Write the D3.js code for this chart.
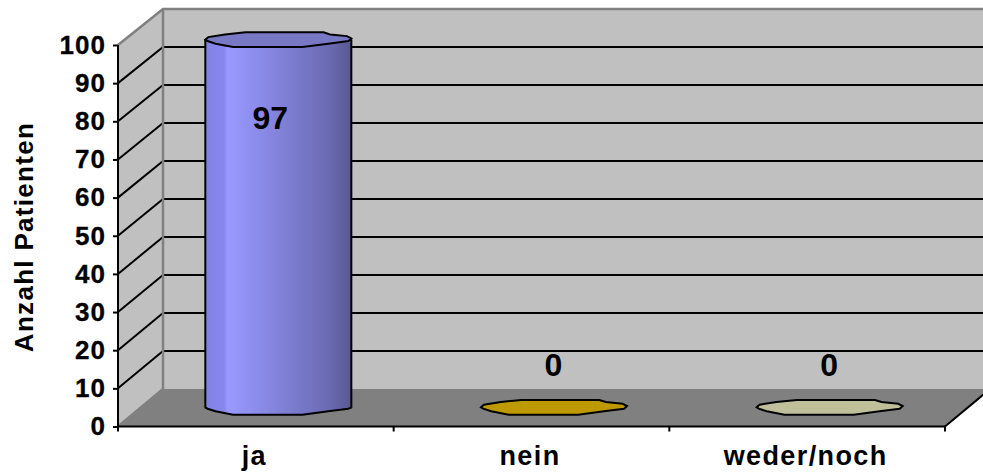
<!DOCTYPE html>
<html><head><meta charset="utf-8">
<script src="https://cdn.jsdelivr.net/npm/d3@7"></script>
<style>html,body{margin:0;padding:0;background:#fff;overflow:hidden}svg{display:block}text{font-family:"Liberation Sans",Arial,sans-serif;font-weight:bold;fill:#000}</style>
</head><body><svg id="c" width="983" height="476"></svg>
<script>
const categories = ["ja","nein","weder/noch"];
const values = [97,0,0];
const barColors = ["#9999ff","#bf9900","#bfbf99"];
const tickValues = d3.range(0,101,10);
const axisTitle = "Anzahl Patienten";

const svg = d3.select("#c");
const x = d3.scaleBand().domain(categories).range([118,945]);
const y = d3.scaleLinear().domain([0,100]).range([426.5,45]);
const dx = 45;
const yBack = d3.scaleLinear().domain([0,100]).range([389,9]);
const yBar = d3.scaleLinear().domain([0,100]).range([407.5,407.5-379]);

const defs = svg.append("defs");
const grad = defs.append("linearGradient").attr("id","cyl");
[[0,"#8383e6"],[0.13,"#8686ec"],[0.15,"#9999ff"],[0.28,"#9191f4"],[0.5,"#8282da"],[0.7,"#7474c4"],[0.85,"#6a6ab2"],[1,"#58588f"]]
 .forEach(s=>grad.append("stop").attr("offset",s[0]).attr("stop-color",s[1]));

const x0=x.range()[0], x1=x.range()[1];
const poly = p=>"M"+p.map(q=>q.join(",")).join("L")+"Z";
svg.append("path").attr("d",poly([[x0+dx,yBack(0)],[x0+dx,yBack(100)],[x1+dx,yBack(100)],[x1+dx,yBack(0)]])).attr("fill","#c0c0c0");
svg.append("path").attr("d",poly([[x0,y(0)],[x0,y(100)],[x0+dx,yBack(100)],[x0+dx,yBack(0)]])).attr("fill","#c0c0c0");
svg.append("path").attr("d",poly([[x0,y(0)],[x0+dx,yBack(0)],[x1+dx,yBack(0)],[x1,y(0)]])).attr("fill","#808080");
const gridVals = tickValues.filter(v=>v>0&&v<100);
svg.selectAll(".gb").data(gridVals).join("line").attr("x1",x0+dx).attr("x2",x1+dx).attr("y1",d=>yBack(d)).attr("y2",d=>yBack(d)).attr("stroke","#000").attr("stroke-width",2);
svg.selectAll(".gs").data(gridVals).join("line").attr("x1",x0).attr("x2",x0+dx).attr("y1",d=>y(d)).attr("y2",d=>yBack(d)).attr("stroke","#000").attr("stroke-width",2);
svg.append("path").attr("d",`M${x0},${y(100)}L${x0+dx},${yBack(100)}L${x1+dx},${yBack(100)}M${x0+dx},${yBack(100)}L${x0+dx},${yBack(0)}L${x0},${y(0)}`).attr("fill","none").attr("stroke","#808080").attr("stroke-width",2.5);
svg.append("line").attr("x1",x1).attr("y1",y(0)).attr("x2",x1+dx).attr("y2",yBack(0)).attr("stroke","#000").attr("stroke-width",2);

const ay = svg.append("g").attr("transform",`translate(${x0},0)`).call(d3.axisLeft(y).tickValues(tickValues).tickSize(5).tickPadding(7));
ay.selectAll("path").attr("d",`M0,${y(100)}V${y(0)}`).attr("stroke","#000").attr("stroke-width",2);
ay.selectAll("line").attr("stroke","#000").attr("stroke-width",2);
ay.selectAll("text").attr("font-size",26).attr("letter-spacing",1).attr("style","font-family:'Liberation Sans';font-weight:bold;stroke:#000;stroke-width:.3").attr("fill","#000");
const edges=[...categories.map(c=>x(c)),x1];
const ax = svg.append("g").attr("transform",`translate(0,${y(0)})`);
ax.append("line").attr("x1",x0).attr("x2",x1).attr("stroke","#000").attr("stroke-width",2);
ax.selectAll(".t").data(edges).join("line").attr("x1",d=>d).attr("x2",d=>d).attr("y1",0).attr("y2",5).attr("stroke","#000").attr("stroke-width",2);
svg.selectAll(".cat").data(categories).join("text").attr("x",d=>x(d)+x.bandwidth()/2-1.5).attr("y",465).attr("text-anchor","middle").attr("font-size",27).attr("letter-spacing",1.4).text(d=>d);

// wavy outline of the cylinder caps, in fractions of the radii
const capTop=[[-1,-.03],[-.96,-.37],[-.73,-.73],[-.45,-1],[.62,-1],[.71,-.73],[.94,-.5],[1,-.2]];
const capLow=[[.96,.16],[.71,.47],[.33,.96],[-.62,.96],[-.86,.51],[-.97,.16]];
const rx=73, ry=7.5;
const toPts=(arr,cx,cy)=>arr.map(p=>[cx+p[0]*rx,cy+p[1]*ry]);
const cap=(cx,cy)=>poly(toPts(capTop.concat(capLow),cx,cy));
const cx=d=>x(d.c)+x.bandwidth()/2+dx/2;
const data=categories.map((c,i)=>({c,v:values[i],col:barColors[i]}));
data.forEach(d=>{
  const X=cx(d),Bot=yBar(0),Top=yBar(d.v);
  if(d.v>0){
    const body=[[X-rx,Top],[X-rx,Bot],...toPts(capLow.slice().reverse(),X,Bot),[X+rx,Bot],[X+rx,Top]];
    svg.append("path").attr("d",poly(body)).attr("fill","url(#cyl)").attr("stroke","#000").attr("stroke-width",2).attr("stroke-linejoin","round");
    svg.append("path").attr("d",cap(X,Top)).attr("fill","#7878c4").attr("stroke","#000").attr("stroke-width",2);
  } else {
    svg.append("path").attr("d",cap(X,Bot)).attr("fill",d.col).attr("stroke","#000").attr("stroke-width",2);
  }
});
svg.selectAll(".val").data(data).join("text").attr("text-anchor","middle").attr("font-size",32)
 .attr("x",d=>cx(d)-(d.v>0?8:0.5)).attr("y",d=>d.v>0?129:376).text(d=>d.v);
svg.append("text").attr("transform","translate(33,237) rotate(-90)").attr("text-anchor","middle").attr("font-size",26).attr("letter-spacing",1.3).text(axisTitle);
</script></body></html>
